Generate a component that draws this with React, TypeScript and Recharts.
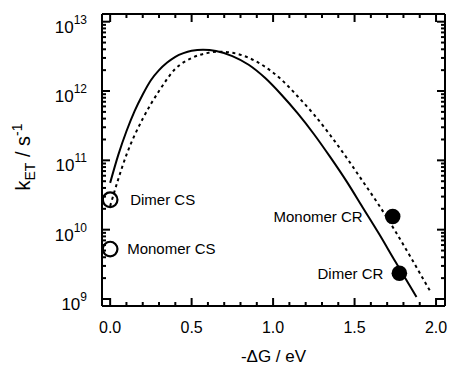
import React from 'react';
import { ComposedChart, Line, Scatter, XAxis, YAxis, Label } from 'recharts';

// ---- data ----
const solidEv = [0, 0.05, 0.1, 0.15, 0.2, 0.25, 0.3, 0.35, 0.4, 0.45, 0.5, 0.57, 0.65, 0.75, 0.85, 0.95, 1.05, 1.15, 1.25, 1.35, 1.45, 1.55, 1.65, 1.75, 1.85, 1.88];
const solidK = [4.73e10, 1.2e11, 2.63e11, 5.13e11, 8.91e11, 1.43e12, 2.0e12, 2.57e12, 3.12e12, 3.52e12, 3.8e12, 3.94e12, 3.78e12, 3.19e12, 2.39e12, 1.55e12, 8.91e11, 4.79e11, 2.4e11, 1.12e11, 5.01e10, 2.09e10, 8.71e9, 3.47e9, 1.41e9, 1.07e9];

const dashedEv = [0, 0.05, 0.1, 0.2, 0.3, 0.4, 0.5, 0.6, 0.675, 0.75, 0.85, 0.95, 1.05, 1.15, 1.25, 1.35, 1.45, 1.55, 1.65, 1.75, 1.85, 1.95, 1.97];
const dashedK = [2.19e10, 5.37e10, 1.2e11, 3.98e11, 1.0e12, 2.09e12, 2.99e12, 3.55e12, 3.69e12, 3.56e12, 3.02e12, 2.24e12, 1.47e12, 8.41e11, 4.6e11, 2.32e11, 1.1e11, 5.0e10, 2.25e10, 9.5e9, 3.8e9, 1.48e9, 1.23e9];

const openNames = ['Dimer CS', 'Monomer CS'];
const openEv = [0, 0];
const openK = [2.7e10, 5.25e9];

const filledNames = ['Monomer CR', 'Dimer CR'];
const filledEv = [1.734, 1.775];
const filledK = [1.55e10, 2.35e9];

const xMajorTicks = [0, 0.5, 1, 1.5, 2];
const xMinorTicks = [0.1, 0.2, 0.3, 0.4, 0.6, 0.7, 0.8, 0.9, 1.1, 1.2, 1.3, 1.4, 1.6, 1.7, 1.8, 1.9];
const yExponents = [9, 10, 11, 12, 13];
const yMantissas = [2, 3, 4, 5, 6, 7, 8, 9];

// ---- derived tables ----
const solidData = solidEv.map((ev, i) => ({ ev, k: solidK[i] }));
const dashedData = dashedEv.map((ev, i) => ({ ev, k: dashedK[i] }));
const openData = openEv.map((ev, i) => ({ ev, k: openK[i], name: openNames[i] }));
const filledData = filledEv.map((ev, i) => ({ ev, k: filledK[i], name: filledNames[i] }));

const yMajorTicks = yExponents.map((e) => Math.pow(10, e));
const yMinorTicks: number[] = [];
yExponents.slice(0, -1).forEach((e) => yMantissas.forEach((m) => yMinorTicks.push(m * Math.pow(10, e))));
const xAllTicks = [...xMajorTicks, ...xMinorTicks].sort((a, b) => a - b);
const yAllTicks = [...yMajorTicks, ...yMinorTicks].sort((a, b) => a - b);

// ---- styling ----
const FONT = '"Liberation Sans", Arial, Helvetica, sans-serif';
const W = 451;
const H = 371;
const X_DOMAIN: [number, number] = [-0.05, 2.055];
const Y_DOMAIN: [number, number] = [Math.pow(10, 8.899), Math.pow(10, 13.111)];
const MAJOR = 8;
const MINOR = 4;
const TICK_W = 2;
const AXIS = { stroke: '#000', strokeWidth: 2 };

const labelStyle: Record<string, { dx: number; anchor: 'start' | 'end' }> = {
  'Dimer CS': { dx: 20, anchor: 'start' },
  'Monomer CS': { dx: 17, anchor: 'start' },
  'Monomer CR': { dx: -30, anchor: 'end' },
  'Dimer CR': { dx: -16, anchor: 'end' },
};

const isXMajor = (v: number) => xMajorTicks.some((t) => Math.abs(t - v) < 1e-6);
const isYMajor = (v: number) => yMajorTicks.some((t) => Math.abs(t - v) / t < 1e-6);

const BottomTick = (props: any) => {
  const { x, y, payload } = props;
  const major = isXMajor(payload.value);
  return (
    <g>
      <line x1={x} y1={y} x2={x} y2={y - (major ? MAJOR : MINOR)} stroke="#000" strokeWidth={TICK_W} />
      {major && (
        <text x={x} y={y + 27} textAnchor="middle" fontSize={16} fontFamily={FONT} fill="#000">
          {payload.value.toFixed(1)}
        </text>
      )}
    </g>
  );
};

const TopTick = (props: any) => {
  const { x, y, payload } = props;
  const major = isXMajor(payload.value);
  return <line x1={x} y1={y} x2={x} y2={y + (major ? MAJOR : MINOR)} stroke="#000" strokeWidth={TICK_W} />;
};

const LeftTick = (props: any) => {
  const { x, y, payload } = props;
  const major = isYMajor(payload.value);
  const exp = Math.round(Math.log10(payload.value));
  return (
    <g>
      <line x1={x} y1={y} x2={x + (major ? MAJOR : MINOR)} y2={y} stroke="#000" strokeWidth={TICK_W} />
      {major && (
        <text x={x - 15} y={y + 11} textAnchor="end" fontSize={17} fontFamily={FONT} fill="#000">
          10
          <tspan dy={-9} fontSize={12}>
            {exp}
          </tspan>
        </text>
      )}
    </g>
  );
};

const RightTick = (props: any) => {
  const { x, y, payload } = props;
  const major = isYMajor(payload.value);
  return <line x1={x} y1={y} x2={x - (major ? MAJOR : MINOR)} y2={y} stroke="#000" strokeWidth={TICK_W} />;
};

const PointLabel = ({ cx, cy, name }: { cx: number; cy: number; name: string }) => {
  const s = labelStyle[name];
  return (
    <text x={cx + s.dx} y={cy} dy="0.35em" textAnchor={s.anchor} fontSize={15} fontFamily={FONT} fill="#000">
      {name}
    </text>
  );
};

const OpenShape = (props: any) => {
  const { cx, cy, payload } = props;
  return (
    <g>
      <circle cx={cx} cy={cy} r={7.3} fill="none" stroke="#000" strokeWidth={2.2} />
      <PointLabel cx={cx} cy={cy} name={payload.name} />
    </g>
  );
};

const FilledShape = (props: any) => {
  const { cx, cy, payload } = props;
  return (
    <g>
      <circle cx={cx} cy={cy} r={7.8} fill="#000" stroke="none" />
      <PointLabel cx={cx} cy={cy} name={payload.name} />
    </g>
  );
};

const XTitle = (props: any) => {
  const vb = props.viewBox || { x: 102, y: 306, width: 343 };
  return (
    <text x={vb.x + vb.width / 2} y={vb.y + 56} textAnchor="middle" fontSize={17} fontFamily={FONT} fill="#000">
      -ΔG / eV
    </text>
  );
};

const YTitle = (props: any) => {
  const vb = props.viewBox || { x: 0, y: 14, height: 292 };
  const cx = 30;
  const cy = vb.y + vb.height / 2 - 3;
  return (
    <text
      transform={`translate(${cx},${cy}) rotate(-90)`}
      textAnchor="middle"
      fontSize={20}
      fontFamily={FONT}
      fill="#000"
    >
      k
      <tspan dy={5} fontSize={14}>
        ET
      </tspan>
      <tspan dy={-5}> / s</tspan>
      <tspan dy={-8} fontSize={14}>
        -1
      </tspan>
    </text>
  );
};

export default function App() {
  return (
    <div style={{ position: 'absolute', left: 0, top: 0, width: W, height: H, background: '#fff' }}>
      <ComposedChart width={W} height={H} margin={{ top: 13, right: 5, bottom: 0, left: 0 }}>
        <XAxis
          dataKey="ev"
          type="number"
          domain={X_DOMAIN}
          allowDataOverflow
          ticks={xAllTicks}
          interval={0}
          tickSize={0}
          tickMargin={0}
          tickLine={false}
          tick={<BottomTick />}
          height={65}
          axisLine={AXIS}
          label={<Label content={<XTitle />} />}
        />
        <XAxis
          xAxisId="top"
          orientation="top"
          dataKey="ev"
          type="number"
          domain={X_DOMAIN}
          allowDataOverflow
          ticks={xAllTicks}
          interval={0}
          tickSize={0}
          tickMargin={0}
          tickLine={false}
          tick={<TopTick />}
          height={1}
          axisLine={AXIS}
        />
        <YAxis
          dataKey="k"
          type="number"
          scale="log"
          domain={Y_DOMAIN}
          allowDataOverflow
          ticks={yAllTicks}
          interval={0}
          tickSize={0}
          tickMargin={0}
          tickLine={false}
          tick={<LeftTick />}
          width={102}
          axisLine={AXIS}
          label={<Label content={<YTitle />} />}
        />
        <YAxis
          yAxisId="right"
          orientation="right"
          dataKey="k"
          type="number"
          scale="log"
          domain={Y_DOMAIN}
          allowDataOverflow
          ticks={yAllTicks}
          interval={0}
          tickSize={0}
          tickMargin={0}
          tickLine={false}
          tick={<RightTick />}
          width={1}
          axisLine={AXIS}
        />
        <Line
          xAxisId="top"
          yAxisId="right"
          data={solidData}
          dataKey="k"
          stroke="none"
          dot={false}
          activeDot={false}
          legendType="none"
          isAnimationActive={false}
        />
        <Line
          data={solidData}
          dataKey="k"
          type="monotone"
          stroke="#000"
          strokeWidth={2}
          dot={false}
          activeDot={false}
          isAnimationActive={false}
        />
        <Line
          data={dashedData}
          dataKey="k"
          type="monotone"
          stroke="#000"
          strokeWidth={2}
          strokeDasharray="3 3.5"
          dot={false}
          activeDot={false}
          isAnimationActive={false}
        />
        <Scatter data={openData} dataKey="k" shape={<OpenShape />} isAnimationActive={false} />
        <Scatter data={filledData} dataKey="k" shape={<FilledShape />} isAnimationActive={false} />
      </ComposedChart>
    </div>
  );
}
